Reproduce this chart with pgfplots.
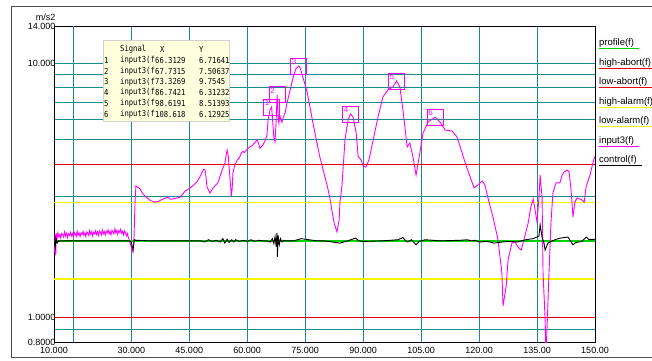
\documentclass[border=0pt]{standalone}
\usepackage{graphicx}
\usepackage{pgfplots}
\pgfplotsset{compat=1.18}
\usepackage{fontspec}
\setmainfont{Liberation Sans}
\newfontfamily\monofont{DejaVu Sans Mono}
\definecolor{gridteal}{RGB}{0,128,128}
\definecolor{tabbg}{RGB}{255,255,221}
\definecolor{mag}{RGB}{255,0,255}
\definecolor{grn}{RGB}{0,210,0}
\definecolor{yel}{RGB}{245,245,0}
\definecolor{abortred}{RGB}{235,0,0}
\newcommand{\tabfont}{\monofont\fontsize{7.2}{8}\selectfont}
\newcommand{\T}[3]{\node[anchor=west, inner sep=0pt, font=\tabfont] at (#1pt,-#2pt) {\scalebox{1}[1.15]{#3}};}
\newcommand{\Lg}[3]{\node[anchor=west, inner sep=0pt, font=\fontsize{9.5}{10}\selectfont] (lg) at (599pt,-#1pt) {#2};
  \draw[#3, line width=1.1pt] ([yshift=-0.5pt]lg.south west) -- ([xshift=5pt,yshift=-0.5pt]lg.south east);}
\begin{document}
\begin{tikzpicture}
\useasboundingbox (0,0) rectangle (652pt,-360pt);
\fill[white] (0,0) rectangle (652pt,-360pt);
\draw[gray!60!black, line width=0.8pt] (652pt,-6.5pt) -- (11pt,-6.5pt) -- (11pt,-357pt) -- (652pt,-357pt);
\begin{axis}[
  at={(54pt,-342pt)}, anchor=south west,
  width=541pt, height=316pt, scale only axis,
  xmin=10, xmax=150, ymode=log, ymin=0.8, ymax=14,
  xtick={10,30,45,60,75,90,105,120,135,150},
  xticklabels={10.000,30.000,45.000,60.000,75.000,90.000,105.00,120.00,135.00,150.00},
  extra x ticks={15}, extra x tick labels={}, extra x tick style={grid=major},
  ytick={0.8,1,10,14},
  yticklabels={0.8000,1.0000,10.000,14.000},
  minor ytick={0.9,2,3,4,5,6,7,8,9},
  xmajorgrids, ymajorgrids, yminorgrids,
  major grid style={gridteal!90, line width=0.9pt},
  minor grid style={gridteal!90, line width=0.9pt},
  major tick length=0pt, minor tick length=0pt,
  axis line style={black, line width=0.8pt},
  ticklabel style={font=\fontsize{9}{10}\selectfont},
  xticklabel style={anchor=north, inner sep=0pt, yshift=-5.5pt},
  yticklabel style={anchor=east, inner sep=0pt, xshift=1.5pt},
  clip=true,
]
\addplot[grn, line width=1.4pt] coordinates {(10,2) (150,2)};
\addplot[abortred, line width=1.2pt] coordinates {(10,4) (150,4)};
\addplot[abortred, line width=1.3pt] coordinates {(10,1) (150,1)};
\addplot[yel, line width=1.6pt] coordinates {(10,2.83) (150,2.83)};
\addplot[yel, line width=1.6pt] coordinates {(10,1.414) (150,1.414)};
% input3
\addplot[mag, line width=0.9pt] coordinates {
(10.0,2.00)(10.15,1.80)(10.3,2.12)(10.45,1.75)(10.6,2.14)(10.8,2.05)
(11.00,2.15)(11.25,2.07)(11.50,2.12)(11.75,2.05)(12.00,2.14)(12.25,2.12)(12.50,2.07)(12.75,2.17)(13.00,2.09)(13.25,2.14)
(13.50,2.06)(13.75,2.13)(14.00,2.10)(14.25,2.16)(14.50,2.09)(14.75,2.14)(15.00,2.07)(15.25,2.16)(15.50,2.13)(15.75,2.08)
(16.00,2.18)(16.25,2.10)(16.50,2.15)(16.75,2.08)(17.00,2.15)(17.25,2.12)(17.50,2.18)(17.75,2.10)(18.00,2.15)(18.25,2.08)
(18.50,2.17)(18.75,2.15)(19.00,2.10)(19.25,2.20)(19.50,2.12)(19.75,2.17)(20.00,2.09)(20.25,2.16)(20.50,2.13)(20.75,2.19)
(21.00,2.12)(21.25,2.17)(21.50,2.10)(21.75,2.19)(22.00,2.16)(22.25,2.11)(22.50,2.21)(22.75,2.13)(23.00,2.18)(23.25,2.11)
(23.50,2.18)(23.75,2.15)(24.00,2.21)(24.25,2.13)(24.50,2.18)(24.75,2.11)(25.00,2.20)(25.25,2.17)(25.50,2.13)(25.75,2.23)
(26.00,2.15)(26.25,2.20)(26.50,2.12)(26.75,2.19)(27.00,2.16)(27.25,2.22)(27.50,2.14)(27.75,2.18)(28.00,2.11)(28.25,2.19)
(28.50,2.15)(28.75,2.09)(29.00,2.14)(29.25,2.06)(29.5,2.01)(29.8,1.94)(30.1,1.86)(30.45,1.80)(30.7,2.05)(31.0,2.9)
(31.2,3.29)(31.7,3.25)(32.3,3.20)(33.0,3.06)(34.1,2.95)(35.0,2.88)(36.1,2.84)(37.0,2.86)(38.2,2.92)(39.0,2.95)
(39.5,2.97)(40.0,2.92)(40.5,2.92)(41.5,2.94)(42.6,2.97)(43.3,3.05)(43.9,3.14)(44.5,3.17)(45.2,3.23)(46.0,3.30)
(47.0,3.41)(47.8,3.58)(48.4,3.75)(48.8,3.83)(49.1,3.80)(49.3,3.6)(49.6,3.26)(50.4,3.08)(51.15,3.23)(52.4,3.38)
(53.5,3.80)(54.25,4.05)(54.6,4.4)(54.8,4.55)(55.1,4.3)(55.5,3.6)(55.9,3.0)(56.1,3.2)(56.3,3.70)(56.8,3.98)
(57.4,4.16)(58.0,4.25)(58.4,4.40)(58.9,4.50)(59.3,4.45)(59.8,4.55)(60.2,4.62)(60.7,4.68)(61.2,4.72)(61.6,4.80)
(62.1,4.90)(62.5,4.99)(62.9,4.85)(63.3,4.62)(63.7,4.70)(64.1,4.77)(64.6,4.95)(65.1,5.20)(65.4,5.98)(65.9,6.54)
(66.31,6.72)(66.6,5.87)(66.9,5.1)(67.2,4.90)(67.5,6.0)(67.73,7.51)(68.0,6.09)(68.2,5.8)(68.4,6.25)(68.7,6.00)
(69.0,5.85)(69.3,6.10)(69.8,6.37)(70.3,6.97)(71.1,7.84)(71.9,8.82)(72.6,9.50)(73.33,9.75)(73.7,9.60)(74.4,8.82)
(75.5,7.70)(77.0,5.82)(78.8,4.27)(80.7,3.29)(81.4,2.95)(81.9,2.64)(82.5,2.35)(83.2,2.17)(83.8,2.42)(84.0,2.84)
(84.5,3.26)(85.3,4.99)(86.1,5.98)(86.74,6.31)(87.4,6.14)(88.2,5.31)(88.7,4.30)(89.5,4.16)(90.0,3.94)(90.7,3.90)
(91.5,4.16)(92.6,4.99)(93.85,6.14)(95.1,7.36)(96.4,7.84)(97.7,8.06)(98.62,8.51)(99.5,8.06)(100.3,6.54)(101.4,4.68)
(102.1,4.85)(102.9,4.27)(103.7,3.63)(104.5,4.27)(105.5,5.31)(106.8,5.87)(108.62,6.13)(109.9,5.87)(111.2,5.46)(113.0,5.41)
(114.3,5.12)(115.3,4.6)(116.4,4.05)(117.7,3.57)(118.7,3.23)(119.7,3.32)(120.8,3.44)(121.5,3.32)(122.3,2.95)(123.6,2.48)
(124.9,2.02)(125.9,1.50)(126.2,1.11)(127.0,1.32)(127.5,1.68)(128.5,1.96)(129.3,1.98)(130.1,1.89)(130.9,1.84)(131.6,2.02)
(132.7,2.35)(133.4,2.72)(134.0,2.92)(134.5,2.64)(135.0,2.37)(135.5,2.97)(135.8,3.63)(136.3,2.97)(136.55,1.50)(137.1,0.977)
(137.3,0.72)(137.6,0.917)(138.1,1.50)(138.6,2.35)(139.1,3.08)(139.9,3.38)(140.9,3.38)(141.5,3.63)(142.0,3.73)(142.8,3.80)
(143.3,3.73)(143.8,3.17)(144.3,2.48)(144.8,2.84)(145.35,2.95)(146.6,2.90)(147.2,2.84)(147.7,3.26)(148.7,3.63)(149.5,4.08)
(150,4.30)
};
% control
\addplot[black, line width=0.9pt] coordinates {
(10.0,2.02)(10.3,1.88)(10.5,2.05)(10.8,1.96)(11.2,2.00)(15,2.00)(20,2.00)(25,2.00)(29.5,2.00)(30.0,1.97)
(30.45,1.85)(30.8,2.02)(31.2,2.01)(35,2.0)(40,2.0)(45,2.0)(48,2.0)(49,1.98)(50,2.02)(51,1.99)
(52,2.01)(53,1.98)(53.7,2.04)(54.2,1.96)(54.8,2.03)(55.3,1.97)(56.0,2.02)(56.5,1.98)(57,2.02)(58,1.99)
(59,2.01)(60,1.99)(61,2.02)(62,1.99)(63,2.01)(64,2.0)(65,2.0)(66,1.98)(66.5,2.04)(66.9,1.95)
(67.2,2.08)(67.5,1.9)(67.7,2.15)(67.8,1.73)(68.0,2.1)(68.3,1.93)(68.6,2.04)(69.0,1.98)(69.5,2.01)(70,2.0)
(72,2.0)(74,2.04)(76,2.02)(78,2.0)(80,2.0)(82,1.98)(84,1.96)(86,2.0)(88,2.05)(89,2.0)
(90,1.99)(95,2.0)(99,2.02)(100.3,2.06)(101,2.0)(101.5,1.98)(102.5,2.02)(103.7,1.93)(104.5,1.99)(106,2.02)
(110,2.0)(115,2.01)(117,2.02)(118,2.0)(119,2.01)(120,1.98)(122,1.99)(124,1.96)(126,1.98)(128,1.99)
(130,1.98)(132,2.02)(134,2.04)(135.5,2.09)(135.8,2.31)(136.3,2.07)(136.8,1.96)(137.1,1.84)(137.8,1.96)(139.6,2.02)
(141,2.05)(143,2.07)(144.3,1.93)(145,1.97)(146.6,1.99)(147.7,2.07)(148.5,2.02)(150,2.03)
};
% peak markers
\addplot[only marks, mark=square, mark size=8pt, mark options={mag, line width=0.8pt},
  point meta=explicit symbolic, nodes near coords,
  every node near coord/.style={anchor=north west, xshift=-7.5pt, yshift=7.5pt, inner sep=0.3pt,
    font=\fontsize{8}{8}\selectfont, text=mag}]
  table[meta=lab] {
x y lab
66.3129 6.71641 1
67.7315 7.50637 2
73.3269 9.7545 3
86.7421 6.31232 4
98.6191 8.51393 5
108.618 6.12925 6
};
\end{axis}
% y unit label
\node[anchor=east, inner sep=0pt, font=\fontsize{9}{10}\selectfont] at (55.5pt,-17pt) {m/s2};
% cursor table
\fill[tabbg] (103pt,-40pt) rectangle (229pt,-121pt);
\draw[gray!35, line width=0.5pt] (103pt,-40pt) rectangle (229pt,-121pt);
\T{120}{49.5}{Signal}\T{160}{49.5}{X}\T{199}{49.5}{Y}
\T{104}{60.3}{1}\T{120}{60.3}{input3(f}\T{155}{60.3}{66.3129}\T{199}{60.3}{6.71641}
\T{104}{71.1}{2}\T{120}{71.1}{input3(f}\T{155}{71.1}{67.7315}\T{199}{71.1}{7.50637}
\T{104}{81.9}{3}\T{120}{81.9}{input3(f}\T{155}{81.9}{73.3269}\T{199}{81.9}{9.7545}
\T{104}{92.7}{4}\T{120}{92.7}{input3(f}\T{155}{92.7}{86.7421}\T{199}{92.7}{6.31232}
\T{104}{103.5}{5}\T{120}{103.5}{input3(f}\T{155}{103.5}{98.6191}\T{199}{103.5}{8.51393}
\T{104}{114.3}{6}\T{120}{114.3}{input3(f}\T{155}{114.3}{108.618}\T{199}{114.3}{6.12925}
% legend
\Lg{43.5}{profile(f)}{grn}
\Lg{63}{high-abort(f)}{abortred}
\Lg{82.5}{low-abort(f)}{abortred}
\Lg{102}{high-alarm(f)}{yel}
\Lg{121.5}{low-alarm(f)}{yel}
\Lg{141}{input3(f)}{mag}
\Lg{160.5}{control(f)}{black}
\end{tikzpicture}
\end{document}
